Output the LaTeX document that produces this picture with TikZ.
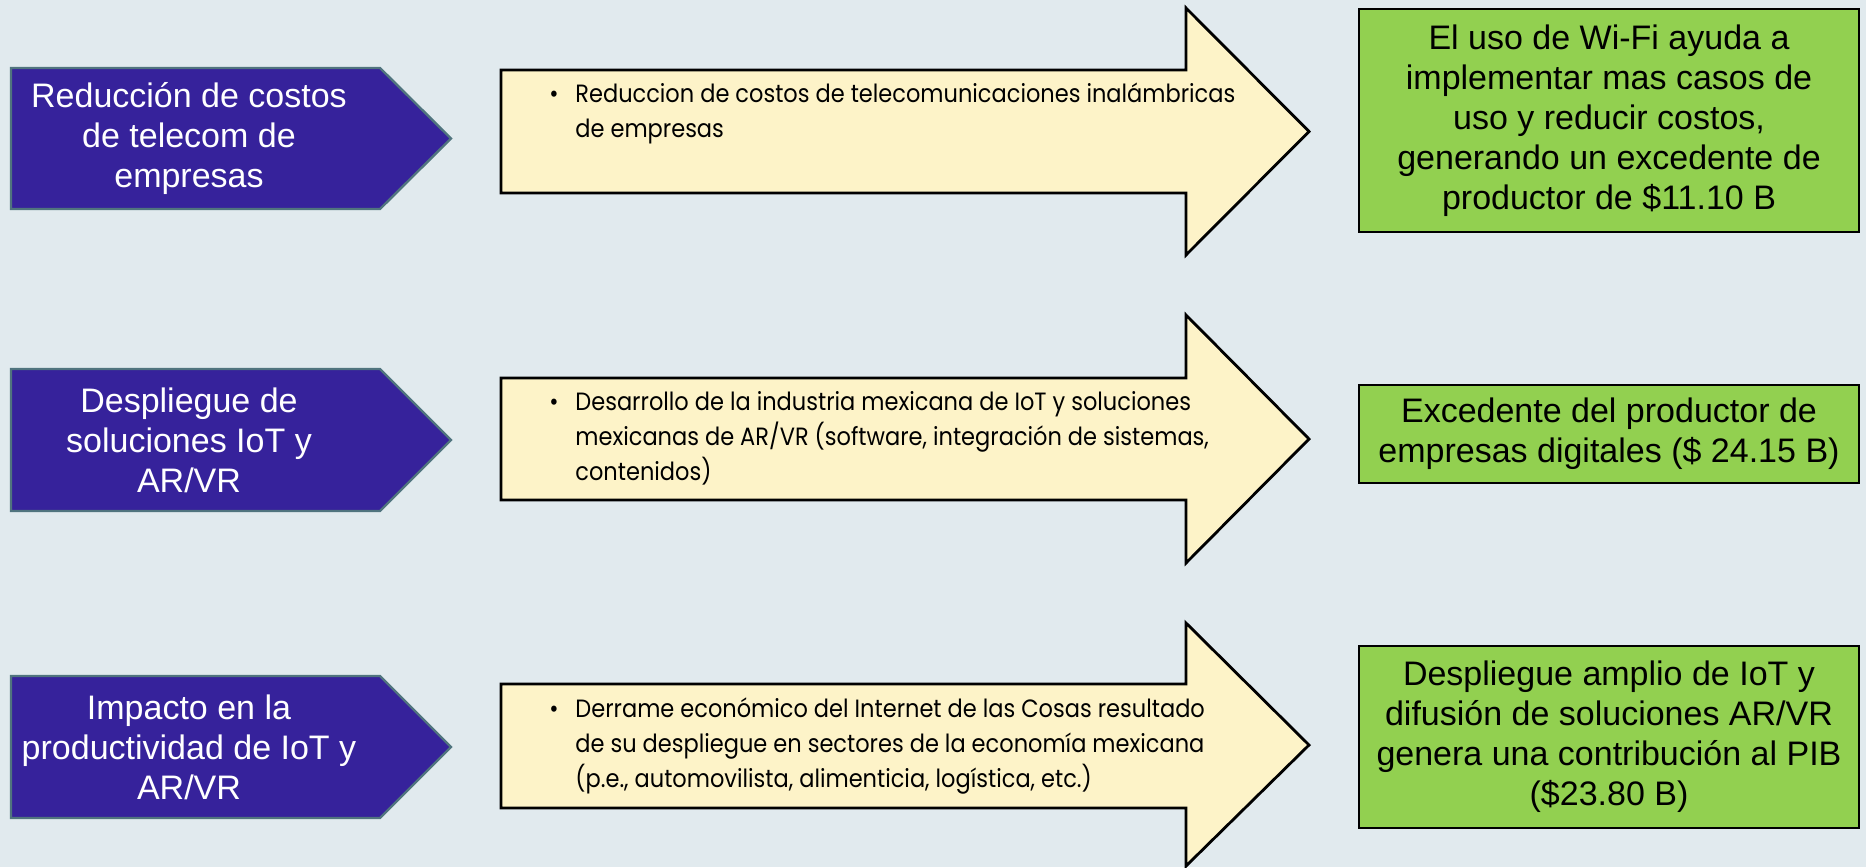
\documentclass[tikz,border=0pt]{standalone}
\usepackage{fontspec}
\setmainfont{Liberation Sans}
\newfontfamily\pointfont[FakeStretch=0.9]{Poppins}

\definecolor{slidebg}{RGB}{225,234,238}
\definecolor{causefill}{RGB}{54,34,155}
\definecolor{causeline}{RGB}{80,116,126}
\definecolor{flowfill}{RGB}{253,243,200}
\definecolor{resultfill}{RGB}{146,208,80}

\begin{document}
\begin{tikzpicture}[x=0.5pt,y=0.5pt,yscale=-1,xscale=1,
    cause/.style={draw=causeline,line width=1.2pt,fill=causefill,line join=miter},
    flow/.style={draw=black,line width=1.4pt,fill=flowfill,line join=miter},
    result/.style={draw=black,line width=0.9pt,fill=resultfill},
    causetext/.style={text=white,align=center,inner sep=0pt,font=\fontsize{17}{20}\selectfont},
    resulttext/.style={text=black,align=center,inner sep=0pt,font=\fontsize{17}{20}\selectfont},
    pointtext/.style={text=black,inner sep=0pt,anchor=base west,font=\pointfont\fontsize{12.5}{17.5}\selectfont}]
    %set diagram size 1866 x 867
    \fill [slidebg] (0,0) rectangle (1866,867);
    \useasboundingbox (0,0) rectangle (1866,867);

    %Shape: Pentagon (row 1)
    \draw [cause] (11,68) -- (380,68) -- (451,138.5) -- (380,209) -- (11,209) -- cycle ;
    %Shape: Pentagon (row 2)
    \draw [cause] (11,369) -- (380,369) -- (451,440) -- (380,511) -- (11,511) -- cycle ;
    %Shape: Pentagon (row 3)
    \draw [cause] (11,676) -- (380,676) -- (451,747) -- (380,818) -- (11,818) -- cycle ;

    %Shape: Right Arrow (row 1)
    \draw [flow] (501,70) -- (1186,70) -- (1186,8) -- (1309,131.5) -- (1186,255) -- (1186,193) -- (501,193) -- cycle ;
    %Shape: Right Arrow (row 2)
    \draw [flow] (501,378) -- (1186,378) -- (1186,315) -- (1309,439) -- (1186,563) -- (1186,500) -- (501,500) -- cycle ;
    %Shape: Right Arrow (row 3)
    \draw [flow] (501,684) -- (1186,684) -- (1186,623) -- (1309,745) -- (1186,866) -- (1186,808) -- (501,808) -- cycle ;

    %Shape: Rectangle (row 1)
    \draw [result] (1359,9) -- (1859,9) -- (1859,232) -- (1359,232) -- cycle ;
    %Shape: Rectangle (row 2)
    \draw [result] (1359,385) -- (1859,385) -- (1859,483) -- (1359,483) -- cycle ;
    %Shape: Rectangle (row 3)
    \draw [result] (1359,646) -- (1859,646) -- (1859,828) -- (1359,828) -- cycle ;

    % Text Node
    \node [causetext] (costos) at (189,138.5) {Reducción de costos\\de telecom de\\empresas};
    % Text Node
    \node [causetext] (despliegue) at (189,440) {Despliegue de\\soluciones IoT y\\AR/VR};
    % Text Node
    \node [causetext] (impacto) at (189,747) {Impacto en la\\productividad de IoT y\\AR/VR};

    % Text Node
    \node [pointtext] (bulletA) at (549,102) {\textbullet};
    \node [pointtext] (pointA) at (575,102) {\begin{tabular}[t]{@{}l@{}}Reduccion de costos de telecomunicaciones inalámbricas\\de empresas\end{tabular}};
    % Text Node
    \node [pointtext] (bulletB) at (549,410) {\textbullet};
    \node [pointtext] (pointB) at (575,410) {\begin{tabular}[t]{@{}l@{}}Desarrollo de la industria mexicana de IoT y soluciones\\mexicanas de AR/VR (software, integración de sistemas,\\contenidos)\end{tabular}};
    % Text Node
    \node [pointtext] (bulletC) at (549,717) {\textbullet};
    \node [pointtext] (pointC) at (575,717) {\begin{tabular}[t]{@{}l@{}}Derrame económico del Internet de las Cosas resultado\\de su despliegue en sectores de la economía mexicana\\(p.e., automovilista, alimenticia, logística, etc.)\end{tabular}};

    % Text Node
    \node [resulttext] (wifi) at (1609,120.5) {El uso de Wi-Fi ayuda a\\implementar mas casos de\\uso y reducir costos,\\generando un excedente de\\productor de \$11.10 B};
    % Text Node
    \node [resulttext] (excedente) at (1609,434) {Excedente del productor de\\empresas digitales (\$ 24.15 B)};
    % Text Node
    \node [resulttext] (pib) at (1609,737) {Despliegue amplio de IoT y\\difusión de soluciones AR/VR\\genera una contribución al PIB\\(\$23.80 B)};
\end{tikzpicture}
\end{document}
